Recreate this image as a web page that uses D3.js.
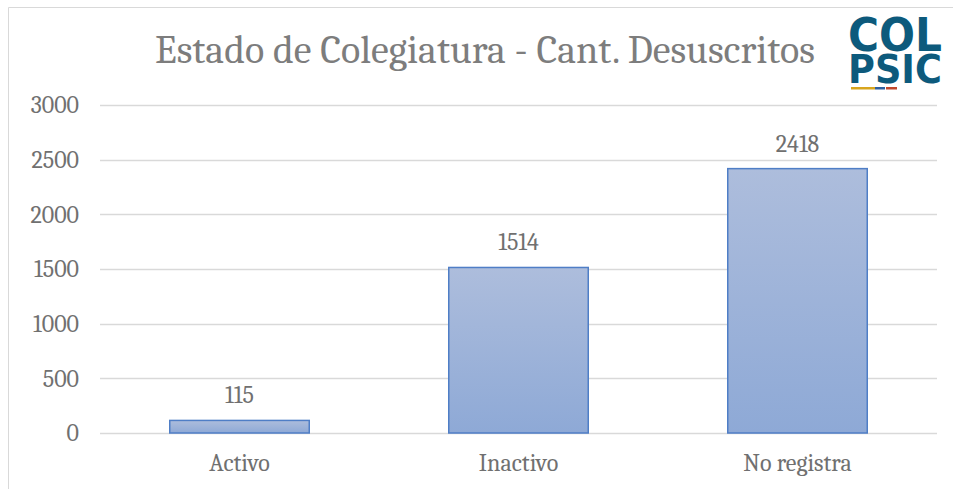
<!DOCTYPE html>
<html>
<head>
<meta charset="utf-8">
<script src="https://cdn.jsdelivr.net/npm/d3@7"></script>
<style>
  body { margin: 0; background: #fff; }
  svg { display: block; }
</style>
</head>
<body>
<div id="chart"></div>
<script>
// datos del gráfico
const categories = ['Activo', 'Inactivo', 'No registra'];
const values = [115, 1514, 2418];
const yTicks = [0, 500, 1000, 1500, 2000, 2500, 3000];
const title = 'Estado de Colegiatura - Cant. Desuscritos';

const width = 953, height = 489;
const font = "Cambria, Caladea, 'DejaVu Serif', 'Liberation Serif', serif";
const labelColor = '#707070';

const svg = d3.select('#chart').append('svg')
  .attr('width', width)
  .attr('height', height);

// marco del gráfico
svg.append('path')
  .attr('d', `M8.5,${height} V7.5 H${width}`)
  .attr('fill', 'none')
  .attr('stroke', '#d9d9d9')
  .attr('stroke-width', 1);

const defs = svg.append('defs');
const grad = defs.append('linearGradient')
  .attr('id', 'barGrad')
  .attr('x1', 0).attr('y1', 0).attr('x2', 0).attr('y2', 1);
grad.append('stop').attr('offset', '0%').attr('stop-color', '#adbddc');
grad.append('stop').attr('offset', '100%').attr('stop-color', '#8ea9d6');

const x = d3.scaleBand()
  .domain(categories)
  .range([100, 937])
  .paddingInner(0.5)
  .paddingOuter(0.25);

const y = d3.scaleLinear()
  .domain([0, 3000])
  .range([433, 105]);

// líneas de cuadrícula
svg.append('g')
  .selectAll('line')
  .data(yTicks)
  .enter().append('line')
  .attr('x1', 100)
  .attr('x2', 937)
  .attr('y1', d => Math.round(y(d)) + 0.5)
  .attr('y2', d => Math.round(y(d)) + 0.5)
  .attr('stroke', '#d9d9d9')
  .attr('stroke-width', 1.3);

// eje Y
const yAxis = svg.append('g')
  .attr('transform', 'translate(79,0)')
  .call(d3.axisLeft(y).tickValues(yTicks).tickFormat(d3.format('d')).tickSize(0).tickPadding(0));
yAxis.select('.domain').remove();
yAxis.selectAll('text')
  .attr('font-family', font)
  .attr('font-size', 24)
  .attr('fill', labelColor);

// barras
svg.append('g')
  .selectAll('rect')
  .data(values)
  .enter().append('rect')
  .attr('x', (d, i) => x(categories[i]))
  .attr('y', d => y(d))
  .attr('width', x.bandwidth())
  .attr('height', d => y(0) - y(d))
  .attr('fill', 'url(#barGrad)')
  .attr('stroke', '#4f7ec6')
  .attr('stroke-width', 1.5);

// etiquetas de valores
svg.append('g')
  .selectAll('text')
  .data(values)
  .enter().append('text')
  .attr('x', (d, i) => x(categories[i]) + x.bandwidth() / 2)
  .attr('y', d => y(d) - 17)
  .attr('text-anchor', 'middle')
  .attr('font-family', font)
  .attr('font-size', 24)
  .attr('fill', labelColor)
  .text(d => d);

// eje X
const xAxis = svg.append('g')
  .attr('transform', 'translate(0,433)')
  .call(d3.axisBottom(x).tickSize(0).tickPadding(0));
xAxis.select('.domain').remove();
xAxis.selectAll('text')
  .attr('y', 38)
  .attr('dy', null)
  .attr('font-family', font)
  .attr('font-size', 24)
  .attr('fill', labelColor);

// título
svg.append('text')
  .attr('x', 485)
  .attr('y', 63)
  .attr('text-anchor', 'middle')
  .attr('font-family', font)
  .attr('font-size', 40)
  .attr('fill', '#7d7d7d')
  .text(title);

// logo COLPSIC
const logo = svg.append('text')
  .attr('font-family', "'DejaVu Sans', 'Liberation Sans', Arial, sans-serif")
  .attr('font-weight', 'bold')
  .attr('text-anchor', 'middle')
  .attr('fill', '#0d5a7c');
logo.append('tspan')
  .attr('x', 895).attr('y', 51)
  .attr('font-size', 46)
  .attr('textLength', 94)
  .attr('lengthAdjust', 'spacingAndGlyphs')
  .text('COL');
logo.append('tspan')
  .attr('x', 895).attr('y', 83)
  .attr('font-size', 39)
  .attr('textLength', 94)
  .attr('lengthAdjust', 'spacingAndGlyphs')
  .text('PSIC');
const stripes = [['#d8a51e', 851, 24], ['#2f5f9e', 875, 10], ['#c0472b', 886, 11]];
svg.append('g')
  .selectAll('rect')
  .data(stripes)
  .enter().append('rect')
  .attr('x', d => d[1]).attr('y', 87)
  .attr('width', d => d[2]).attr('height', 2.5)
  .attr('fill', d => d[0]);
</script>
</body>
</html>
